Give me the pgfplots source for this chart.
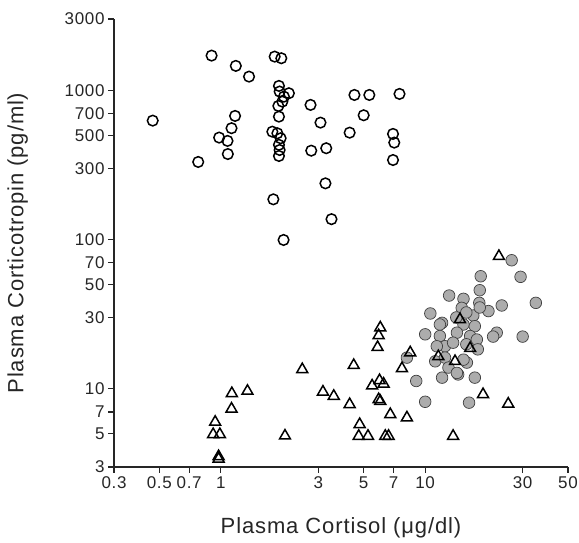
\documentclass[border=0pt]{standalone}
\usepackage{fontspec}
\setmainfont{Liberation Sans}[LetterSpace=4]
\usepackage{pgfplots}
\pgfplotsset{compat=1.18}
\begin{document}
\begin{tikzpicture}
\useasboundingbox (0,0) rectangle (579pt,543pt);
\begin{axis}[
  at={(114pt,76pt)}, anchor=south west,
  scale only axis, width=454pt, height=448pt,
  xmode=log, ymode=log,
  xmin=0.3, xmax=50, ymin=3, ymax=3000,
  axis x line*=bottom, axis y line*=left,
  axis line style={line width=1.3pt, black!85},
  tick align=outside, major tick length=6pt, minor tick num=0,
  tick style={line width=1.1pt, black!85},
  xtick={0.3,0.5,0.7,1,3,5,7,10,30,50},
  xticklabels={0.3,0.5,0.7,1,3,5,7,10,30,50},
  ytick={3,5,7,10,30,50,70,100,300,500,700,1000,3000},
  yticklabels={3,5,7,10,30,50,70,100,300,500,700,1000,3000},
  /pgf/number format/assume math mode=true,
  ticklabel style={font=\fontsize{17}{17}\selectfont, black!85},
  xlabel={Plasma Cortisol (μg/dl)},
  ylabel={Plasma Corticotropin (pg/ml)},
  label style={font=\fontsize{22}{22}\selectfont, black!85},
  xlabel style={at={(axis description cs:0.5,-0.135)}, anchor=center},
  ylabel style={at={(axis description cs:-0.212,0.5)}, anchor=center},
  clip=false,
]
% filled grey circles
\addplot[only marks, mark=*, mark size=5.8pt, mark options={fill=gray!65, draw=gray!50!black, line width=0.7pt}] table {
x y
26.5 72.7
18.7 56.8
29.3 56.3
18.5 45.8
13.1 42.2
15.4 40.1
18.4 37.7
20.4 33.2
23.7 36.2
34.8 37.7
10.6 32.0
15.1 34.9
17.2 31.0
12.1 27.7
10.0 23.2
22.4 23.8
21.5 22.4
30.0 22.4
11.2 15.3
12.1 11.9
14.5 12.5
16.0 15.0
17.5 11.9
8.14 16.2
9.04 11.3
10.0 8.2
16.4 8.09
11.8 27.0
15.4 27.0
17.5 26.3
14.3 23.8
16.6 22.6
17.9 21.4
11.8 22.6
12.5 19.3
13.7 20.4
12.5 16.2
13.0 13.9
15.4 15.7
14.3 12.8
18.5 35.1
11.4 19.3
15.9 19.9
18.1 18.4
14.2 30.1
15.9 32.5
};
% open triangles
\addplot[only marks, mark=triangle, mark size=6.3pt, mark options={fill=white, draw=black, line width=1.5pt}] table {
x y
0.938 6.0
0.917 4.96
0.989 4.96
0.975 3.53
0.975 3.40
1.132 9.33
1.128 7.35
1.35 9.67
2.06 4.85
2.503 13.5
3.16 9.55
3.57 8.95
4.27 7.88
4.47 14.4
4.78 5.79
4.73 4.83
5.25 4.83
6.03 25.7
5.92 22.8
5.85 19.0
5.50 10.5
5.98 11.4
6.26 10.8
5.92 8.5
6.03 8.28
6.38 4.83
6.62 4.83
6.75 6.75
8.14 6.42
7.70 13.7
8.45 17.5
13.7 4.83
19.2 9.19
25.5 7.94
22.96 77.3
14.8 29.2
16.6 18.7
14.0 15.3
11.6 16.5
};
% open circles
\addplot[only marks, mark=o, mark size=5.3pt, mark options={draw=black, line width=1.5pt}] table {
x y
0.464 626
0.901 1706
1.184 1456
1.374 1234
1.174 673
1.128 557
0.981 482
1.078 458
1.082 374
0.775 331
1.834 1680
1.977 1638
1.925 1069
1.94 980
2.153 955
2.036 906
2.0 839
1.912 785
1.925 666
1.787 528
1.891 515
1.962 477
1.925 431
1.94 398
1.925 363
1.807 186
2.028 99.4
2.748 798
3.074 607
2.77 394
3.28 409
4.506 930
5.33 930
5.0 680
4.27 520
7.49 945
6.96 510
7.06 446
6.96 341
3.25 238
3.48 137
};
\end{axis}
\end{tikzpicture}
\end{document}
